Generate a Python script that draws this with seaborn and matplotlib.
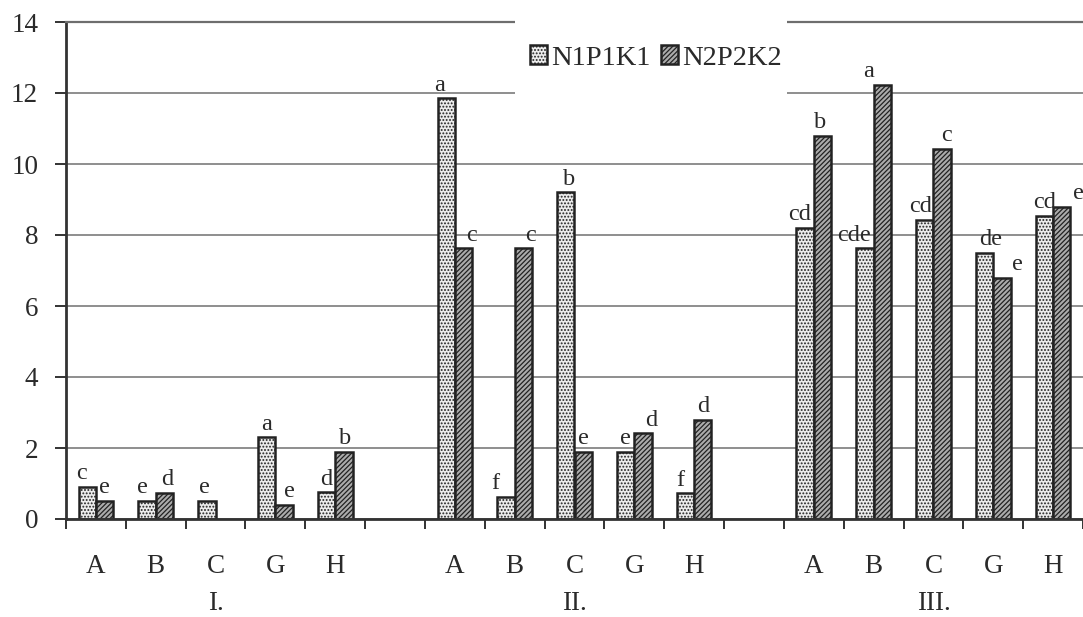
import numpy as np
import pandas as pd
import matplotlib
matplotlib.use("Agg")
import matplotlib.pyplot as plt
from matplotlib.patches import Rectangle
from matplotlib.transforms import blended_transform_factory
import seaborn as sns

# ---- data -------------------------------------------------------------
groups = ["I.", "II.", "III."]
crops = ["A", "B", "C", "G", "H"]
series = ["N1P1K1", "N2P2K2"]

n1p1k1 = [[0.9, 0.5, 0.5, 2.3, 0.75],
          [11.85, 0.62, 9.2, 1.9, 0.72],
          [8.2, 7.62, 8.42, 7.5, 8.54]]
n2p2k2 = [[0.5, 0.74, None, 0.4, 1.9],
          [7.62, 7.62, 1.9, 2.41, 2.8],
          [10.8, 12.22, 10.42, 6.8, 8.8]]

letters_n1 = [["c", "e", "e", "a", "d"],
              ["a", "f", "b", "e", "f"],
              ["cd", "cde", "cd", "de", "cd"]]
letters_n2 = [["e", "d", "", "e", "b"],
              ["c", "c", "e", "d", "d"],
              ["b", "a", "c", "e", "e"]]

# horizontal nudges of the significance letters (points)
nudge_n1 = [[-4, -3, -2, 0, 0], [-5, -8, 2, 0, -4], [-4, -8, -3, 4, 0]]
nudge_n2 = [[0, 2, 0, 4, 1], [6, 5, 0, 6, 0], [-2, -10, 3, 11, 12]]

yticks = [0, 2, 4, 6, 8, 10, 12, 14]

# ---- table ------------------------------------------------------------
slots = []
for gi, g in enumerate(groups):
    slots += [f"{g}{c}" for c in crops]
    if gi < len(groups) - 1:
        slots.append(f"{g}gap")

rows = []
for gi, g in enumerate(groups):
    for ci, c in enumerate(crops):
        for s, vals in zip(series, (n1p1k1, n2p2k2)):
            v = vals[gi][ci]
            if v is not None:
                rows.append({"slot": f"{g}{c}", "series": s, "value": v})
df = pd.DataFrame(rows)

# ---- style ------------------------------------------------------------
sns.set_style("white")
plt.rcParams["font.family"] = ["Liberation Serif", "DejaVu Serif"]
plt.rcParams["hatch.linewidth"] = 0.9
txt = "#2a2a2a"

fig = plt.figure(figsize=(10.83, 6.17), dpi=100)
ax = fig.add_axes([66 / 1083, 1 - 519 / 617, 1 - 66 / 1083, (519 - 22) / 617])

sns.barplot(data=df, x="slot", y="value", hue="series", order=slots,
            hue_order=series, width=0.58, errorbar=None, legend=False,
            saturation=1, ax=ax)

styles = {
    "N1P1K1": dict(facecolor="#ececec", hatch=".....", edgecolor="#222222"),
    "N2P2K2": dict(facecolor="#ababab", hatch="///////", edgecolor="#222222"),
}
for cont, s in zip(ax.containers, series):
    for p in cont:
        p.set_facecolor(styles[s]["facecolor"])
        p.set_edgecolor(styles[s]["edgecolor"])
        p.set_hatch(styles[s]["hatch"])
        p.set_linewidth(1.8)

# significance letters above each bar
letters = {"N1P1K1": letters_n1, "N2P2K2": letters_n2}
nudges = {"N1P1K1": nudge_n1, "N2P2K2": nudge_n2}
for cont, s in zip(ax.containers, series):
    for p in cont:
        xc = p.get_x() + p.get_width() / 2
        idx = int(round(xc))
        gi, ci = divmod(idx, len(crops) + 1)
        lab = letters[s][gi][ci]
        if not lab:
            continue
        ax.annotate(lab, (xc, p.get_height()),
                    xytext=(nudges[s][gi][ci], 2), textcoords="offset points",
                    ha="center", va="bottom", fontsize=17.5, color=txt,
                    annotation_clip=False)

# axes, ticks, grid
ax.set_ylim(0, 14)
ax.set_xlim(-0.5, 16.4)
ax.set_yticks(yticks)
ax.set_yticklabels([str(t) for t in yticks])
ax.yaxis.grid(True, color="#8e8e8e", lw=1.4)
ax.set_axisbelow(True)

ax.set_xticks(np.arange(-0.5, len(slots), 1.0))
ax.set_xticklabels([])
centers = [i for i, s in enumerate(slots) if not s.endswith("gap")]
ax.set_xticks(centers, minor=True)
ax.set_xticklabels(crops * len(groups), minor=True)
ax.tick_params(axis="x", which="major", length=7, width=1.4, color="#333333",
               direction="out", bottom=True)
ax.tick_params(axis="x", which="minor", length=0, pad=25, labelsize=19.5,
               labelcolor=txt, bottom=True)
ax.tick_params(axis="y", length=8, width=1.4, color="#333333", pad=12,
               labelsize=19.5, labelcolor=txt, left=True)
ax.set_xlabel("")
ax.set_ylabel("")

for side in ("left", "bottom"):
    ax.spines[side].set_color("#333333")
    ax.spines[side].set_linewidth(2)
ax.spines["top"].set_color("#6e6e6e")
ax.spines["top"].set_linewidth(1.6)
ax.spines["right"].set_visible(False)

# group captions under the crop letters
trans = blended_transform_factory(ax.transData, ax.transAxes)
for gi, g in enumerate(groups):
    pos = [centers[gi * len(crops) + k] for k in range(len(crops))]
    ax.text(np.mean(pos), -0.171, g, transform=trans, ha="center",
            va="center", fontsize=19.5, color=txt)

# legend on a white panel that interrupts the top grid lines
panel = Rectangle((515 / 1083, 1 - 100 / 617), 272 / 1083, 95 / 617,
                  transform=fig.transFigure, facecolor="white",
                  edgecolor="none", zorder=3.5, clip_on=False)
ax.add_artist(panel)
leg = ax.legend(handles=list(ax.containers), labels=series, loc="center",
                bbox_to_anchor=(656 / 1083, 1 - 58 / 617),
                bbox_transform=fig.transFigure, ncol=2, frameon=False,
                fontsize=20.5, handlelength=0.6, handleheight=0.6,
                handletextpad=0.15, columnspacing=0.35, borderpad=0)
for t in leg.get_texts():
    t.set_color(txt)
leg.set_zorder(5)

fig.savefig("out.png", dpi=100, facecolor="white")
